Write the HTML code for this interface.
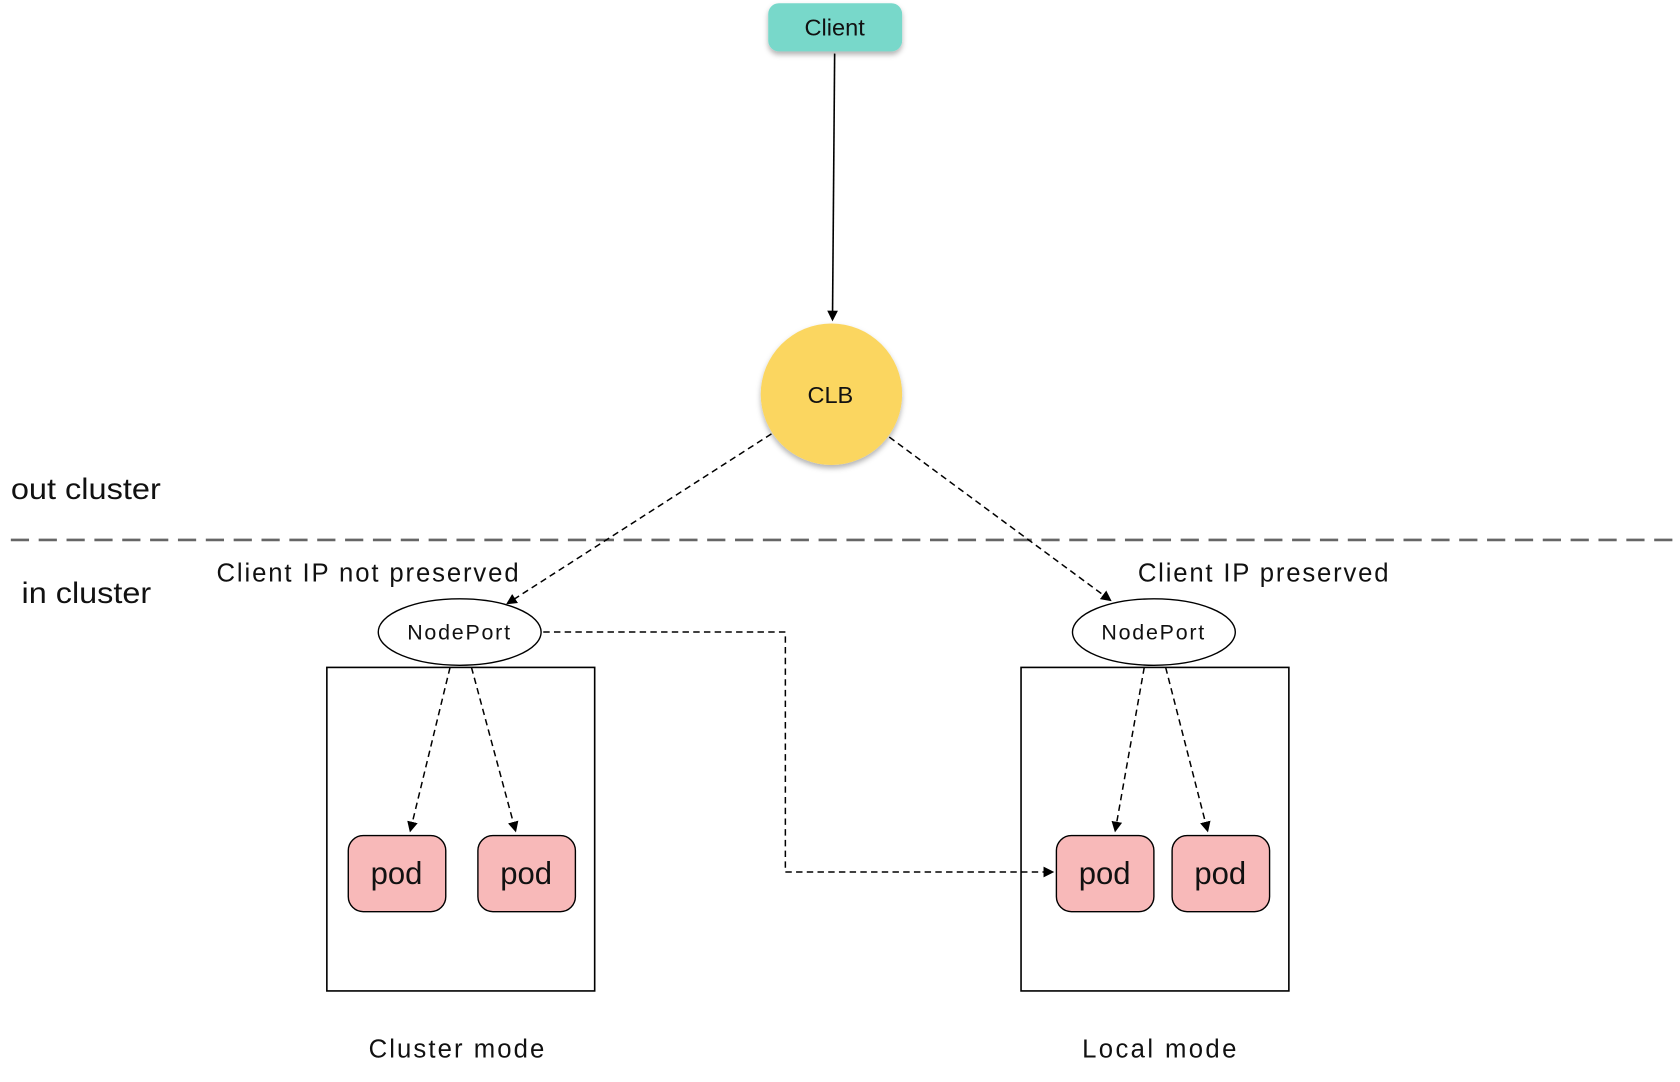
<!DOCTYPE html>
<html><head><meta charset="utf-8"><style>
html,body{margin:0;padding:0;background:#fff;}
svg{display:block;}
text{font-family:"Liberation Sans",sans-serif;fill:#111;}
</style></head><body>
<svg width="1680" height="1082" viewBox="0 0 1568 1010" xmlns="http://www.w3.org/2000/svg">
<defs>
<marker id="a" markerWidth="10" markerHeight="10" refX="8" refY="5" orient="auto" markerUnits="userSpaceOnUse">
<path d="M0,0 L10,5 L0,10 Z" fill="#000"/></marker>
<filter id="s" x="-20%" y="-20%" width="140%" height="150%"><feDropShadow dx="0" dy="3" stdDeviation="2.5" flood-color="#000" flood-opacity="0.3"/></filter>
</defs>
<rect x="717" y="3" width="125" height="45" rx="10" fill="#78d8ca" filter="url(#s)"/>
<text x="779" y="33" font-size="22" text-anchor="middle">Client</text>
<line x1="779" y1="50" x2="777" y2="298" stroke="#000" stroke-width="1.5" marker-end="url(#a)"/>
<circle cx="776" cy="368" r="66" fill="#fbd660" filter="url(#s)"/>
<text x="775" y="376" font-size="22" text-anchor="middle">CLB</text>
<text x="10" y="466" font-size="28" textLength="140" lengthAdjust="spacingAndGlyphs">out cluster</text>
<text x="20" y="563" font-size="28" textLength="121" lengthAdjust="spacingAndGlyphs">in cluster</text>
<line x1="10" y1="504" x2="1568" y2="504" stroke="#666" stroke-width="2.5" stroke-dasharray="17,9"/>
<g stroke="#000" stroke-width="1.4" stroke-dasharray="6,4" fill="none">
<line x1="720" y1="405" x2="474" y2="563" marker-end="url(#a)"/>
<line x1="830" y1="408" x2="1036" y2="560" marker-end="url(#a)"/>
<line x1="420" y1="623" x2="383" y2="775" marker-end="url(#a)"/>
<line x1="440" y1="623" x2="481" y2="775" marker-end="url(#a)"/>
<line x1="1068" y1="623" x2="1041" y2="775" marker-end="url(#a)"/>
<line x1="1088" y1="623" x2="1127" y2="775" marker-end="url(#a)"/>
<path d="M507,590 L733,590 L733,814 L982,814" marker-end="url(#a)"/>
</g>
<text x="202" y="543" font-size="24" textLength="282">Client IP not preserved</text>
<text x="1062" y="543" font-size="24" textLength="234">Client IP preserved</text>
<ellipse cx="429" cy="590" rx="76" ry="31" fill="#fff" stroke="#000" stroke-width="1.3"/>
<text x="428" y="597" font-size="20" text-anchor="middle" textLength="96">NodePort</text>
<ellipse cx="1077" cy="590" rx="76" ry="31" fill="#fff" stroke="#000" stroke-width="1.3"/>
<text x="1076" y="597" font-size="20" text-anchor="middle" textLength="96">NodePort</text>
<rect x="305" y="623" width="250" height="302" fill="none" stroke="#000" stroke-width="1.5"/>
<rect x="953" y="623" width="250" height="302" fill="none" stroke="#000" stroke-width="1.5"/>
<g fill="#f8b9b9" stroke="#000" stroke-width="1.3">
<rect x="325" y="780" width="91" height="71" rx="14"/>
<rect x="446" y="780" width="91" height="71" rx="14"/>
<rect x="986" y="780" width="91" height="71" rx="14"/>
<rect x="1094" y="780" width="91" height="71" rx="14"/>
</g>
<g font-size="29" text-anchor="middle">
<text x="370" y="825">pod</text>
<text x="491" y="825">pod</text>
<text x="1031" y="825">pod</text>
<text x="1139" y="825">pod</text>
</g>
<text x="426" y="987" font-size="24" text-anchor="middle" textLength="164">Cluster mode</text>
<text x="1082" y="987" font-size="24" text-anchor="middle" textLength="144">Local mode</text>
</svg>
</body></html>
